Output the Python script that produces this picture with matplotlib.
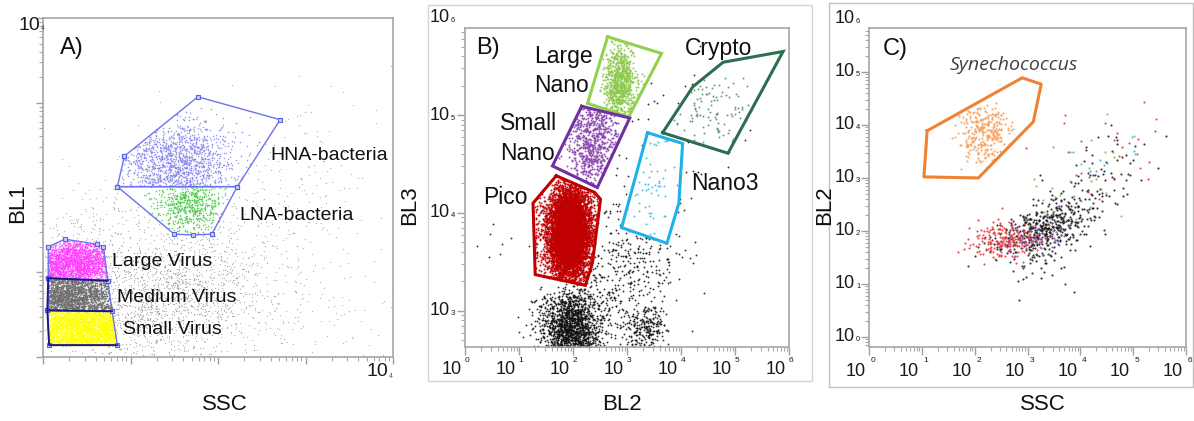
import numpy as np
import matplotlib
matplotlib.use("Agg")
import matplotlib.pyplot as plt
from matplotlib.path import Path
from matplotlib.patches import Rectangle
from matplotlib.ticker import LogLocator, NullFormatter

W, H = 1194, 421
plt.rcParams['font.family'] = ['Liberation Sans', 'DejaVu Sans']

# ---------------- gates (log10 coordinates) ----------------
# Panel A: SSC (x) vs BL1 (y)
a_gates = {
    'HNA-bacteria': [(0.93, 2.37), (1.77, 3.07), (2.71, 2.80), (2.22, 2.01), (0.85, 2.01)],
    'LNA-bacteria': [(0.85, 2.01), (2.22, 2.01), (1.93, 1.45), (1.71, 1.44), (1.50, 1.45)],
    'Large Virus':  [(0.06, 1.30), (0.25, 1.39), (0.62, 1.33), (0.69, 1.30), (0.74, 0.90), (0.06, 0.93)],
    'Medium Virus': [(0.06, 0.93), (0.74, 0.90), (0.79, 0.54), (0.05, 0.55)],
    'Small Virus':  [(0.05, 0.55), (0.79, 0.54), (0.85, 0.14), (0.07, 0.14)],
}
# Panel B: BL2 (x) vs BL3 (y)
b_gates = {
    'Large Nano': [(2.64, 5.80), (3.64, 5.63), (3.03, 4.98), (2.27, 5.12)],
    'Small Nano': [(2.16, 5.09), (3.05, 4.97), (2.45, 4.26), (1.62, 4.48)],
    'Pico':       [(1.69, 4.38), (2.40, 4.21), (2.51, 4.14), (2.36, 3.49), (2.23, 3.26),
                   (1.30, 3.37), (1.26, 4.10)],
    'Nano3':      [(3.38, 4.82), (4.03, 4.71), (3.96, 4.10), (3.74, 3.69), (2.90, 3.85)],
    'Crypto':     [(3.66, 4.82), (4.22, 5.29), (4.78, 5.54), (5.89, 5.65), (4.87, 4.61)],
}
b_gate_colors = {'Large Nano': '#92d050', 'Small Nano': '#7030a0', 'Pico': '#c00000',
                 'Nano3': '#1eb2ea', 'Crypto': '#2b6e50'}
# Panel C: SSC (x) vs BL2 (y)
c_gate_syn = [(1.10, 3.89), (2.90, 4.89), (3.26, 4.77), (3.11, 4.06), (2.07, 3.00), (1.04, 3.02)]

# ---------------- event clouds (log10 centre, spread, count) ----------------
a_pop_gate = ['Small Virus', 'Medium Virus', 'Large Virus', 'HNA-bacteria', 'LNA-bacteria']
a_pop_x = [0.45, 0.30, 0.35, 1.53, 1.68]
a_pop_y = [0.35, 0.72, 1.10, 2.30, 1.80]
a_pop_sx = [0.50, 0.35, 0.30, 0.33, 0.20]
a_pop_sy = [0.30, 0.25, 0.15, 0.25, 0.17]
a_pop_n = [9000, 5000, 3000, 1600, 650]
a_pop_color = ['#ffff00', '#6e6e6e', '#ff40ff', '#8484f2', '#44c844']

a_bg_x = [1.40, 2.40, 0.50, 2.9]
a_bg_y = [0.70, 1.70, 0.95, 0.5]
a_bg_sx = [0.55, 0.80, 0.35, 0.6]
a_bg_sy = [0.40, 0.70, 0.50, 0.3]
a_bg_n = [1700, 400, 500, 150]

b_pop_gate = ['Pico', 'Pico', 'Small Nano', 'Large Nano', 'Nano3', 'Crypto']
b_pop_x = [1.93, 1.93, 2.36, 2.86, 3.45, 4.55]
b_pop_y = [3.80, 3.80, 4.72, 5.33, 4.30, 5.10]
b_pop_sx = [0.18, 0.35, 0.25, 0.15, 0.30, 0.45]
b_pop_sy = [0.22, 0.30, 0.25, 0.20, 0.35, 0.25]
b_pop_n = [6000, 1500, 800, 800, 70, 130]
b_pop_color = ['#c00000', '#c00000', '#8a45b0', '#8cc84b', '#3cb8e8', '#5f8f78']

b_bg_x = [1.95, 3.35, 3.00, 0.60, 3.80]
b_bg_y = [2.82, 2.82, 3.40, 3.75, 4.70]
b_bg_sx = [0.28, 0.18, 0.55, 0.25, 0.60]
b_bg_sy = [0.20, 0.10, 0.42, 0.15, 0.50]
b_bg_rho = [0.0, 0.0, 0.3, 0.0, 0.3]
b_bg_n = [1700, 200, 480, 8, 70]

c_syn_x, c_syn_y, c_syn_sx, c_syn_sy, c_syn_n = 2.16, 3.85, 0.25, 0.28, 300
c_bg_x = [3.35, 4.30, 3.20, 2.55, 4.30, 3.10, 4.00, 4.20]
c_bg_y = [2.05, 2.90, 1.40, 1.85, 3.40, 1.85, 2.80, 3.30]
c_bg_sx = [0.42, 0.50, 0.40, 0.33, 0.70, 0.30, 0.60, 0.50]
c_bg_sy = [0.28, 0.45, 0.30, 0.17, 0.50, 0.20, 0.50, 0.40]
c_bg_rho = [0.5, 0.6, 0.0, 0.2, 0.5, 0.2, 0.6, 0.5]
c_bg_n = [420, 90, 30, 200, 25, 60, 25, 12]
c_bg_color = ['#1a1a1a', '#1a1a1a', '#1a1a1a', '#e23232', '#e23232', '#9050b0', '#70c050', '#30b0e0']

rng = np.random.default_rng(11)


def cloud(cx, cy, sx, sy, n, rho=0.0):
    cov = [[sx * sx, rho * sx * sy], [rho * sx * sy, sy * sy]]
    return rng.multivariate_normal([cx, cy], cov, n)


def inside(pts, gate):
    return Path(np.asarray(gate)).contains_points(pts)


def outside_all(pts, gates):
    keep = np.ones(len(pts), bool)
    for g in gates:
        keep &= ~inside(pts, g)
    return pts[keep]


def dots(ax, pts, color, s, alpha=1.0, z=2):
    ax.scatter(10 ** pts[:, 0], 10 ** pts[:, 1], s=s, c=color, linewidths=0,
               alpha=alpha, zorder=z, rasterized=True)


def add_axes_px(x0, y0, x1, y1):
    return fig.add_axes([x0 / W, 1 - y1 / H, (x1 - x0) / W, (y1 - y0) / H])


def style_log_axes(ax, xlim, ylim, major_len=6, minor_len=3):
    ax.set_xscale('log')
    ax.set_yscale('log')
    ax.set_xlim(*xlim)
    ax.set_ylim(*ylim)
    for a in (ax.xaxis, ax.yaxis):
        a.set_major_locator(LogLocator(base=10, numticks=12))
        a.set_minor_locator(LogLocator(base=10, subs=np.arange(2, 10), numticks=12))
        a.set_major_formatter(NullFormatter())
        a.set_minor_formatter(NullFormatter())
    ax.tick_params(which='major', direction='out', length=major_len, width=1, color='#a0a0a0')
    ax.tick_params(which='minor', direction='out', length=minor_len, width=0.8, color='#a8a8a8')
    for sp in ax.spines.values():
        sp.set_color('#a6a6a6')
        sp.set_linewidth(1.2)


def pow_label_x(ax, k, dx10, dy10, dxe, dye, size=13, esize=6):
    ax.annotate('10', xy=(10 ** k, 0), xycoords=('data', 'axes fraction'), xytext=(dx10, dy10),
                textcoords='offset pixels', ha='right', va='center', fontsize=size,
                color='#1a1a1a', annotation_clip=False)
    ax.annotate(str(k), xy=(10 ** k, 0), xycoords=('data', 'axes fraction'), xytext=(dxe, dye),
                textcoords='offset pixels', ha='center', va='center', fontsize=esize,
                color='#1a1a1a', annotation_clip=False)


def pow_label_y(ax, k, dx10, dxe, dye, size=13, esize=5.5):
    ax.annotate('10', xy=(0, 10 ** k), xycoords=('axes fraction', 'data'), xytext=(dx10, 0),
                textcoords='offset pixels', ha='right', va='center', fontsize=size,
                color='#1a1a1a', annotation_clip=False)
    ax.annotate(str(k), xy=(0, 10 ** k), xycoords=('axes fraction', 'data'), xytext=(dxe, dye),
                textcoords='offset pixels', ha='left', va='center', fontsize=esize,
                color='#1a1a1a', annotation_clip=False)


def ftext(x, y, s, **kw):
    kw.setdefault('va', 'center')
    kw.setdefault('color', '#111111')
    fig.text(x / W, 1 - y / H, s, **kw)


fig = plt.figure(figsize=(W / 100, H / 100), dpi=100)
fig.patch.set_facecolor('white')

# panel frames for B and C
fig.patches.append(Rectangle((428 / W, 1 - 381 / H), (812 - 428) / W, (381 - 5) / H,
                             transform=fig.transFigure, fill=False, ec='#d4d4d4', lw=1))
fig.patches.append(Rectangle((829 / W, 1 - 387 / H), (1193 - 829) / W, (387 - 3) / H,
                             transform=fig.transFigure, fill=False, ec='#c0c0c0', lw=1))

# ================= Panel A =================
axA = add_axes_px(43, 18, 393, 357)
style_log_axes(axA, (1, 1e4), (1, 1e4), major_len=5, minor_len=3)
a_all_gates = list(a_gates.values())
for i in range(len(a_bg_n)):
    pts = cloud(a_bg_x[i], a_bg_y[i], a_bg_sx[i], a_bg_sy[i], a_bg_n[i], 0.2)
    dots(axA, outside_all(pts, a_all_gates), '#8a8a8a', 0.9, 0.6)
for i, g in enumerate(a_pop_gate):
    pts = cloud(a_pop_x[i], a_pop_y[i], a_pop_sx[i], a_pop_sy[i], a_pop_n[i])
    pts = pts[inside(pts, a_gates[g])]
    dots(axA, pts, a_pop_color[i], 1.3, 0.8)
for name, g in a_gates.items():
    arr = np.asarray(g + [g[0]])
    axA.plot(10 ** arr[:, 0], 10 ** arr[:, 1], color='#6b73ee', lw=1.0, zorder=4,
             marker='s', ms=3, mfc='#c8ccff', mec='#5a62e0', mew=0.8)
for name in ['Large Virus', 'Medium Virus', 'Small Virus']:
    g = np.asarray(a_gates[name])
    seg = np.vstack([g[-2], g[-1], g[0]]) if name != 'Large Virus' else np.vstack([g[-2], g[-1]])
    axA.plot(10 ** seg[:, 0], 10 ** seg[:, 1], color='#18188a', lw=1.4, zorder=5)

axA.annotate('10', xy=(0, 1), xycoords='axes fraction', xytext=(-3, -7), textcoords='offset pixels',
             ha='right', va='center', fontsize=14, color='#1a1a1a', annotation_clip=False)
axA.annotate('4', xy=(0, 1), xycoords='axes fraction', xytext=(-2, -10), textcoords='offset pixels',
             ha='left', va='center', fontsize=5, color='#555555', annotation_clip=False)
axA.annotate('10', xy=(1, 0), xycoords='axes fraction', xytext=(-5, -15), textcoords='offset pixels',
             ha='right', va='center', fontsize=14, color='#1a1a1a', annotation_clip=False)
axA.annotate('4', xy=(1, 0), xycoords='axes fraction', xytext=(-4, -19), textcoords='offset pixels',
             ha='left', va='center', fontsize=5, color='#555555', annotation_clip=False)

ftext(60, 48, 'A)', fontsize=17, ha='left')
ftext(270, 155, 'HNA-bacteria', fontsize=14, ha='left')
ftext(239, 215, 'LNA-bacteria', fontsize=14, ha='left')
ftext(112, 262, 'Large Virus', fontsize=14, ha='left')
ftext(117, 297, 'Medium Virus', fontsize=14, ha='left')
ftext(123, 330, 'Small Virus', fontsize=14, ha='left')
ftext(18, 203, 'BL1', fontsize=16, ha='center', rotation=90)
ftext(225, 405, 'SSC', fontsize=16, ha='center')

# ================= Panel B =================
axB = add_axes_px(465, 28, 789, 347)
style_log_axes(axB, (1, 1e6), (10 ** 2.63, 10 ** 5.89))
b_all_gates = list(b_gates.values())
for i in range(len(b_bg_n)):
    pts = cloud(b_bg_x[i], b_bg_y[i], b_bg_sx[i], b_bg_sy[i], b_bg_n[i], b_bg_rho[i])
    dots(axB, outside_all(pts, b_all_gates), '#111111', 1.8, 0.85)
for i, g in enumerate(b_pop_gate):
    pts = cloud(b_pop_x[i], b_pop_y[i], b_pop_sx[i], b_pop_sy[i], b_pop_n[i])
    pts = pts[inside(pts, b_gates[g])]
    dots(axB, pts, b_pop_color[i], 2.0, 0.9)
for name, g in b_gates.items():
    arr = np.asarray(g + [g[0]])
    axB.plot(10 ** arr[:, 0], 10 ** arr[:, 1], color=b_gate_colors[name], lw=2.2, zorder=5,
             solid_joinstyle='miter')
for k in range(7):
    pow_label_x(axB, k, -3, -23, 2, -14)
for k in (3, 4, 5, 6):
    pow_label_y(axB, k, -15, -14, -3)

ftext(476, 48, 'B)', fontsize=17, ha='left')
ftext(534, 57, 'Large', fontsize=16.5, ha='left')
ftext(534, 85, 'Nano', fontsize=16.5, ha='left')
ftext(500, 124, 'Small', fontsize=16.5, ha='left')
ftext(500, 153, 'Nano', fontsize=16.5, ha='left')
ftext(483, 197, 'Pico', fontsize=16.5, ha='left')
ftext(685, 48, 'Crypto', fontsize=16.5, ha='left')
ftext(691, 183, 'Nano3', fontsize=16.5, ha='left')
ftext(410, 205, 'BL3', fontsize=16, ha='center', rotation=90)
ftext(622, 405, 'BL2', fontsize=16, ha='center')

# ================= Panel C =================
axC = add_axes_px(869, 28, 1186, 347)
style_log_axes(axC, (1, 1e6), (10 ** -0.19, 10 ** 5.83))
for i in range(len(c_bg_n)):
    pts = cloud(c_bg_x[i], c_bg_y[i], c_bg_sx[i], c_bg_sy[i], c_bg_n[i], c_bg_rho[i])
    dots(axC, outside_all(pts, [c_gate_syn]), c_bg_color[i], 2.4, 0.85)
pts = cloud(c_syn_x, c_syn_y, c_syn_sx, c_syn_sy, c_syn_n)
dots(axC, pts[inside(pts, c_gate_syn)], '#f5a262', 2.4, 0.9)
arr = np.asarray(c_gate_syn + [c_gate_syn[0]])
axC.plot(10 ** arr[:, 0], 10 ** arr[:, 1], color='#f08234', lw=2.2, zorder=5)
for k in range(7):
    pow_label_x(axC, k, -3, -24, 4, -14)
for k in range(7):
    pow_label_y(axC, k, -14, -13, -3)

ftext(883, 49, 'C)', fontsize=17, ha='left')
ftext(950, 65, 'Synechococcus', fontsize=14, ha='left', style='italic',
      family=['Open Sans', 'DejaVu Sans'], color='#404040')
ftext(825, 205, 'BL2', fontsize=16, ha='center', rotation=90)
ftext(1043, 405, 'SSC', fontsize=16, ha='center')

fig.savefig('out.png', dpi=100, facecolor='white')
